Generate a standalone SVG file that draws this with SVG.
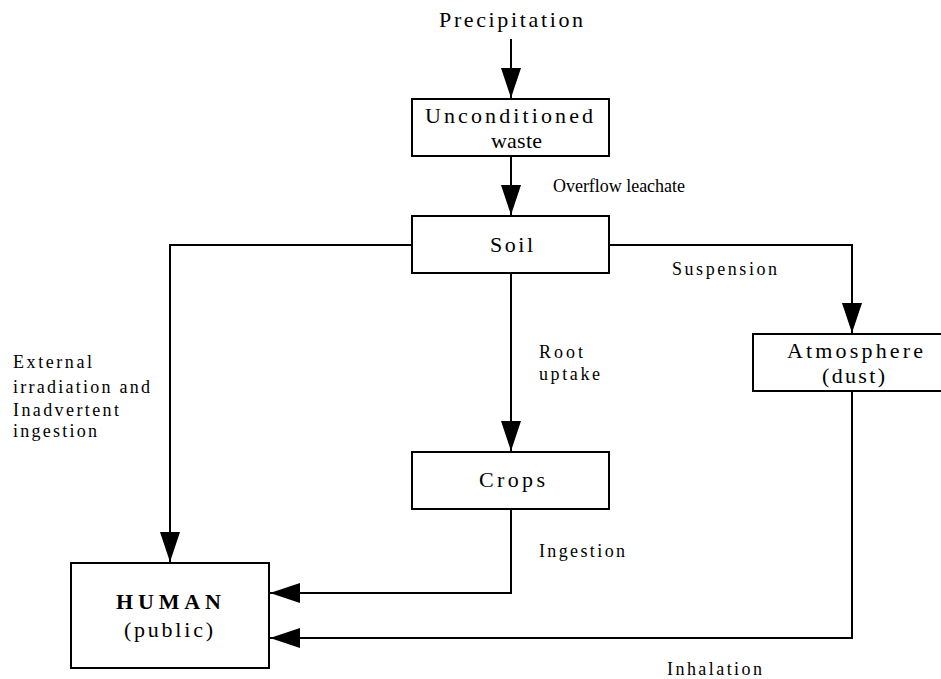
<svg xmlns="http://www.w3.org/2000/svg" width="941" height="679" viewBox="0 0 941 679">
<style>
.box{fill:#fff;stroke:#000;stroke-width:2}
.t{font-family:"Liberation Serif","Times New Roman",Times,serif;font-size:22px;fill:#000}
.l{font-family:"Liberation Serif","Times New Roman",Times,serif;font-size:18px;fill:#000}
.b{font-weight:bold}
.c{fill:none;stroke:#000;stroke-width:2}
</style>
<defs>
<marker id="ah" markerUnits="userSpaceOnUse" markerWidth="30" markerHeight="20" refX="30" refY="10" orient="auto">
<path d="M0,0 L30,10 L0,20 z" fill="#000"/>
</marker>
</defs>
<rect width="941" height="679" fill="#fff"/>
<g id="connectors">
<path class="c" d="M511,39 L511,98" marker-end="url(#ah)"/>
<path class="c" d="M511,156 L511,215" marker-end="url(#ah)"/>
<path class="c" d="M412,245 L170,245 L170,562" marker-end="url(#ah)"/>
<path class="c" d="M609,245 L852,245 L852,333" marker-end="url(#ah)"/>
<path class="c" d="M511,273 L511,451" marker-end="url(#ah)"/>
<path class="c" d="M511,509 L511,593 L270,593" marker-end="url(#ah)"/>
<path class="c" d="M852,391 L852,638 L270,638" marker-end="url(#ah)"/>
</g>
<g id="precipitation">
<text class="t" x="439" y="27" textLength="144" lengthAdjust="spacing">Precipitation</text>
</g>
<g id="unconditioned-waste">
<rect class="box" x="412" y="99" width="197" height="57"/>
<text class="t" x="425" y="123" textLength="168" lengthAdjust="spacing">Unconditioned</text>
<text class="t" x="491" y="148" textLength="51" lengthAdjust="spacing">waste</text>
</g>
<g id="soil">
<rect class="box" x="412" y="216" width="197" height="57"/>
<text class="t" x="490" y="252" textLength="43" lengthAdjust="spacing">Soil</text>
</g>
<g id="crops">
<rect class="box" x="412" y="452" width="197" height="57"/>
<text class="t" x="479" y="487" textLength="66" lengthAdjust="spacing">Crops</text>
</g>
<g id="atmosphere">
<rect class="box" x="753" y="334" width="200" height="57"/>
<text class="t" x="787" y="358" textLength="136" lengthAdjust="spacing">Atmosphere</text>
<text class="t" x="822" y="383" textLength="63" lengthAdjust="spacing">(dust)</text>
</g>
<g id="human">
<rect class="box" x="71" y="563" width="198" height="105"/>
<text class="t b" x="116" y="609" textLength="105" lengthAdjust="spacing">HUMAN</text>
<text class="t" x="124" y="637" textLength="89" lengthAdjust="spacing">(public)</text>
</g>
<g id="labels">
<text class="l" x="553" y="192" textLength="132" lengthAdjust="spacing">Overflow leachate</text>
<text class="l" x="672" y="275" textLength="105" lengthAdjust="spacing">Suspension</text>
<text class="l" x="539" y="358" textLength="44" lengthAdjust="spacing">Root</text>
<text class="l" x="539" y="380" textLength="61" lengthAdjust="spacing">uptake</text>
<text class="l" x="13" y="368" textLength="79" lengthAdjust="spacing">External</text>
<text class="l" x="13" y="393" textLength="137" lengthAdjust="spacing">irradiation and</text>
<text class="l" x="13" y="416" textLength="106" lengthAdjust="spacing">Inadvertent</text>
<text class="l" x="13" y="437" textLength="84" lengthAdjust="spacing">ingestion</text>
<text class="l" x="539" y="557" textLength="86" lengthAdjust="spacing">Ingestion</text>
<text class="l" x="667" y="675" textLength="95" lengthAdjust="spacing">Inhalation</text>
</g>
</svg>
